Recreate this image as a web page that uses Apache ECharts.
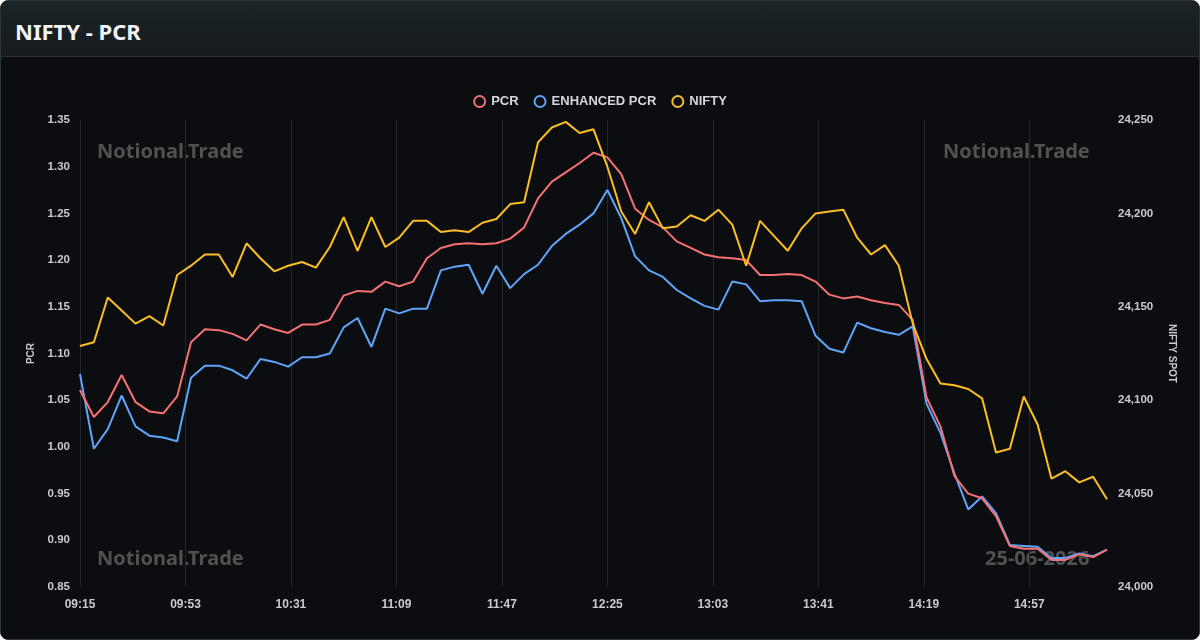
<!DOCTYPE html>
<html>
<head>
<meta charset="utf-8">
<script src="https://cdn.jsdelivr.net/npm/echarts@6/dist/echarts.min.js"></script>
<style>
  body { margin: 0; background: #fff; }
  .card {
    position: absolute; left: 0; top: 0; width: 1200px; height: 640px;
    box-sizing: border-box; border: 1px solid #2c3539; border-radius: 8px;
    overflow: hidden; background: #0b0d10;
  }
  .header {
    height: 56px; box-sizing: border-box; padding: 5px 0 0 14px;
    background: linear-gradient(#1c2427, #151b1e);
    border-bottom: 1px solid #283034;
    display: flex; align-items: center;
    color: #f1f3f5; font: bold 22px "Noto Sans", sans-serif;
  }
  #main { position: absolute; left: 0; top: 56px; width: 1198px; height: 582px; }
</style>
</head>
<body>
<div class="card">
  <div class="header">NIFTY - PCR</div>
  <div id="main"></div>
</div>
<script>
// 5 分钟一个点
const times = [
  "09:15", "09:20", "09:25", "09:30", "09:35", "09:40", "09:45", "09:50", "09:55", "10:00",
  "10:05", "10:10", "10:15", "10:20", "10:25", "10:30", "10:35", "10:40", "10:45", "10:50",
  "10:55", "11:00", "11:05", "11:10", "11:15", "11:20", "11:25", "11:30", "11:35", "11:40",
  "11:45", "11:50", "11:55", "12:00", "12:05", "12:10", "12:15", "12:20", "12:25", "12:30",
  "12:35", "12:40", "12:45", "12:50", "12:55", "13:00", "13:05", "13:10", "13:15", "13:20",
  "13:25", "13:30", "13:35", "13:40", "13:45", "13:50", "13:55", "14:00", "14:05", "14:10",
  "14:15", "14:20", "14:25", "14:30", "14:35", "14:40", "14:45", "14:50", "14:55", "15:00",
  "15:05", "15:10", "15:15", "15:20", "15:25"
]

const pcr = [
  1.061, 1.032, 1.048, 1.077, 1.048, 1.038, 1.036, 1.054, 1.112, 1.126,
  1.125, 1.121, 1.114, 1.131, 1.126, 1.122, 1.131, 1.131, 1.136, 1.162,
  1.167, 1.166, 1.177, 1.172, 1.177, 1.202, 1.213, 1.217, 1.218, 1.217,
  1.218, 1.223, 1.235, 1.266, 1.284, 1.294, 1.304, 1.315, 1.310, 1.292,
  1.255, 1.243, 1.235, 1.220, 1.213, 1.206, 1.203, 1.202, 1.200, 1.184,
  1.184, 1.185, 1.184, 1.177, 1.163, 1.159, 1.161, 1.157, 1.154, 1.152,
  1.136, 1.053, 1.022, 0.969, 0.950, 0.945, 0.926, 0.894, 0.891, 0.891,
  0.879, 0.879, 0.885, 0.882, 0.890
]

const enhancedPcr = [
  1.078, 0.998, 1.019, 1.055, 1.022, 1.012, 1.010, 1.006, 1.074, 1.087,
  1.087, 1.082, 1.073, 1.094, 1.091, 1.086, 1.096, 1.096, 1.100, 1.128,
  1.138, 1.107, 1.148, 1.143, 1.148, 1.148, 1.189, 1.193, 1.195, 1.164,
  1.194, 1.170, 1.185, 1.195, 1.215, 1.228, 1.238, 1.250, 1.275, 1.245,
  1.204, 1.189, 1.182, 1.168, 1.159, 1.151, 1.147, 1.177, 1.174, 1.156,
  1.157, 1.157, 1.156, 1.119, 1.105, 1.101, 1.133, 1.127, 1.123, 1.120,
  1.129, 1.046, 1.015, 0.972, 0.933, 0.947, 0.929, 0.895, 0.894, 0.893,
  0.881, 0.881, 0.886, 0.883, 0.890
]

const nifty = [
  24129, 24131, 24155, 24148, 24141, 24145, 24140, 24167, 24172, 24178,
  24178, 24166, 24184, 24176, 24169, 24172, 24174, 24171, 24182, 24198,
  24180, 24198, 24182, 24187, 24196, 24196, 24190, 24191, 24190, 24195,
  24197, 24205, 24206, 24238, 24246, 24249, 24243, 24245, 24225, 24201,
  24189, 24206, 24192, 24193, 24199, 24196, 24202, 24194, 24172, 24196,
  24188, 24180, 24192, 24200, 24201, 24202, 24187, 24178, 24183, 24172,
  24141, 24122, 24109, 24108, 24106, 24101, 24072, 24074, 24102, 24087,
  24058, 24062, 24056, 24059, 24047
]

const tradeDate = "25-06-2026"

// "09:15" -> 555 (分钟)
function toMin(t) {
  let [h, m] = t.split(":").map(Number)
  return h * 60 + m
}
function fmtMin(v) {
  let h = Math.floor(v / 60), m = Math.round(v % 60)
  return String(h).padStart(2, "0") + ":" + String(m).padStart(2, "0")
}
function pairs(arr) {
  return arr.map((v, i) => [toMin(times[i]), v])
}

var myChart = echarts.init(document.getElementById('main'))

const labelColor = '#c8ccd2'
const wmStyle = { fill: 'rgba(150,150,150,0.5)', font: 'bold 20px "Noto Sans", sans-serif' }
// 空心圆环图例
const ringIcon = 'path://M12,0 A12,12 0 1,1 12,24 A12,12 0 1,1 12,0 Z M12,3.6 A8.4,8.4 0 1,0 12,20.4 A8.4,8.4 0 1,0 12,3.6 Z'

var option = {
  backgroundColor: '#0b0d10',
  textStyle: { fontFamily: '"Liberation Sans", Arial, sans-serif' },
  legend: {
    top: 33,
    left: 'center',
    icon: ringIcon,
    itemWidth: 13,
    itemHeight: 13,
    itemGap: 15,
    data: ['PCR', 'ENHANCED PCR', 'NIFTY'],
    textStyle: { color: '#d4d7dc', fontSize: 13, fontWeight: 'bold' }
  },
  grid: { left: 79, right: 92, top: 63, bottom: 52 },
  xAxis: {
    type: 'value',
    min: toMin(times[0]),
    max: toMin(times[times.length - 1]),
    interval: 38,
    axisLine: { show: false },
    axisTick: { show: false },
    axisLabel: {
      color: labelColor, fontSize: 12, fontWeight: 'bold', margin: 12,
      showMaxLabel: false,
      formatter: v => fmtMin(v)
    },
    splitLine: { show: true, showMaxLine: false, lineStyle: { color: '#23262b', width: 1 } }
  },
  yAxis: [
    {
      type: 'value',
      name: 'PCR',
      nameLocation: 'middle',
      nameGap: 44,
      nameTextStyle: { color: labelColor, fontSize: 10, fontWeight: 'bold' },
      min: 0.85, max: 1.35, interval: 0.05,
      axisLine: { show: false },
      axisTick: { show: false },
      splitLine: { show: false },
      axisLabel: { color: labelColor, fontSize: 11.5, fontWeight: 'bold', margin: 10, formatter: v => v.toFixed(2) }
    },
    {
      type: 'value',
      name: 'NIFTY SPOT',
      nameLocation: 'middle',
      nameRotate: -90,
      nameGap: 60,
      nameTextStyle: { color: labelColor, fontSize: 10, fontWeight: 'bold' },
      min: 24000, max: 24250, interval: 50,
      axisLine: { show: false },
      axisTick: { show: false },
      splitLine: { show: false },
      axisLabel: { color: labelColor, fontSize: 11.5, fontWeight: 'bold', margin: 11, formatter: v => v.toLocaleString('en-US') }
    }
  ],
  graphic: [
    { type: 'text', left: 96, top: 85, style: Object.assign({ text: 'Notional.Trade' }, wmStyle) },
    { type: 'text', left: 942, top: 85, style: Object.assign({ text: 'Notional.Trade' }, wmStyle) },
    { type: 'text', left: 96, top: 492, style: Object.assign({ text: 'Notional.Trade' }, wmStyle) },
    { type: 'text', left: 984, top: 492, style: Object.assign({ text: tradeDate }, wmStyle) }
  ],
  series: [
    {
      name: 'PCR', type: 'line', yAxisIndex: 0, z: 3,
      data: pairs(pcr), showSymbol: false, symbol: 'circle',
      lineStyle: { color: '#f87171', width: 2 }, itemStyle: { color: '#f87171' }
    },
    {
      name: 'ENHANCED PCR', type: 'line', yAxisIndex: 0, z: 2,
      data: pairs(enhancedPcr), showSymbol: false, symbol: 'circle',
      lineStyle: { color: '#60a5fa', width: 2 }, itemStyle: { color: '#60a5fa' }
    },
    {
      name: 'NIFTY', type: 'line', yAxisIndex: 1, z: 4,
      data: pairs(nifty), showSymbol: false, symbol: 'circle',
      lineStyle: { color: '#fbbf24', width: 2 }, itemStyle: { color: '#fbbf24' }
    }
  ]
}

myChart.setOption(option)
</script>
</body>
</html>
